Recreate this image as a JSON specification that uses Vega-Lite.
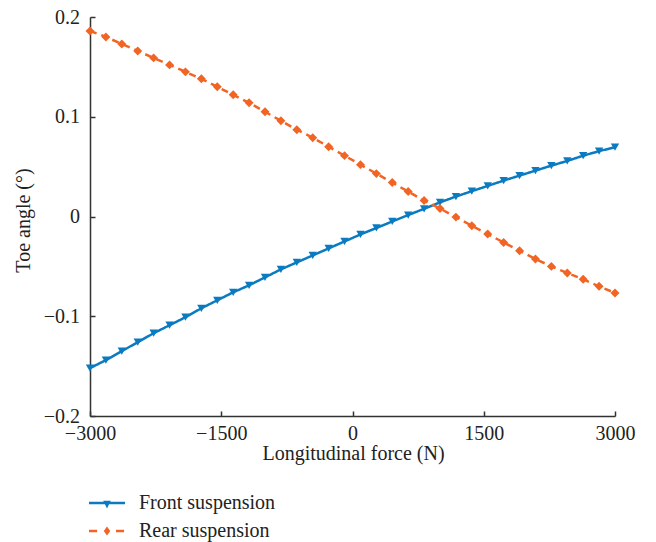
{
  "$schema": "https://vega.github.io/schema/vega-lite/v6.json",
  "width": 525,
  "height": 399,
  "autosize": {"type": "none"},
  "padding": {"left": 90, "top": 17, "right": 41, "bottom": 126},
  "background": "white",
  "config": {
    "view": {"stroke": null},
    "font": "Liberation Serif",
    "axis": {
      "grid": false,
      "labelFlush": false,
      "labelOverlap": false,
      "domainColor": "#333333",
      "domainWidth": 1.5,
      "tickColor": "#333333",
      "tickWidth": 1.5,
      "tickSize": -5,
      "labelFont": "Liberation Serif",
      "labelFontSize": 20,
      "labelColor": "#222222",
      "titleFont": "Liberation Serif",
      "titleFontSize": 20,
      "titleFontWeight": "normal",
      "titleColor": "#222222"
    }
  },
  "data": {
    "values": [
      {"force": -3000, "angle": -0.152, "series": "Front suspension"},
      {"force": -2818.2, "angle": -0.144, "series": "Front suspension"},
      {"force": -2636.4, "angle": -0.135, "series": "Front suspension"},
      {"force": -2454.5, "angle": -0.126, "series": "Front suspension"},
      {"force": -2272.7, "angle": -0.117, "series": "Front suspension"},
      {"force": -2090.9, "angle": -0.109, "series": "Front suspension"},
      {"force": -1909.1, "angle": -0.101, "series": "Front suspension"},
      {"force": -1727.3, "angle": -0.092, "series": "Front suspension"},
      {"force": -1545.5, "angle": -0.084, "series": "Front suspension"},
      {"force": -1363.6, "angle": -0.076, "series": "Front suspension"},
      {"force": -1181.8, "angle": -0.069, "series": "Front suspension"},
      {"force": -1000, "angle": -0.061, "series": "Front suspension"},
      {"force": -818.2, "angle": -0.053, "series": "Front suspension"},
      {"force": -636.4, "angle": -0.046, "series": "Front suspension"},
      {"force": -454.5, "angle": -0.039, "series": "Front suspension"},
      {"force": -272.7, "angle": -0.032, "series": "Front suspension"},
      {"force": -90.9, "angle": -0.025, "series": "Front suspension"},
      {"force": 90.9, "angle": -0.018, "series": "Front suspension"},
      {"force": 272.7, "angle": -0.0115, "series": "Front suspension"},
      {"force": 454.5, "angle": -0.005, "series": "Front suspension"},
      {"force": 636.4, "angle": 0.0015, "series": "Front suspension"},
      {"force": 818.2, "angle": 0.0077, "series": "Front suspension"},
      {"force": 1000, "angle": 0.0142, "series": "Front suspension"},
      {"force": 1181.8, "angle": 0.020, "series": "Front suspension"},
      {"force": 1363.6, "angle": 0.0254, "series": "Front suspension"},
      {"force": 1545.5, "angle": 0.0307, "series": "Front suspension"},
      {"force": 1727.3, "angle": 0.036, "series": "Front suspension"},
      {"force": 1909.1, "angle": 0.041, "series": "Front suspension"},
      {"force": 2090.9, "angle": 0.046, "series": "Front suspension"},
      {"force": 2272.7, "angle": 0.051, "series": "Front suspension"},
      {"force": 2454.5, "angle": 0.0557, "series": "Front suspension"},
      {"force": 2636.4, "angle": 0.061, "series": "Front suspension"},
      {"force": 2818.2, "angle": 0.0655, "series": "Front suspension"},
      {"force": 3000, "angle": 0.0695, "series": "Front suspension"},
      {"force": -3000, "angle": 0.186, "series": "Rear suspension"},
      {"force": -2818.2, "angle": 0.180, "series": "Rear suspension"},
      {"force": -2636.4, "angle": 0.173, "series": "Rear suspension"},
      {"force": -2454.5, "angle": 0.166, "series": "Rear suspension"},
      {"force": -2272.7, "angle": 0.159, "series": "Rear suspension"},
      {"force": -2090.9, "angle": 0.152, "series": "Rear suspension"},
      {"force": -1909.1, "angle": 0.145, "series": "Rear suspension"},
      {"force": -1727.3, "angle": 0.138, "series": "Rear suspension"},
      {"force": -1545.5, "angle": 0.130, "series": "Rear suspension"},
      {"force": -1363.6, "angle": 0.122, "series": "Rear suspension"},
      {"force": -1181.8, "angle": 0.114, "series": "Rear suspension"},
      {"force": -1000, "angle": 0.105, "series": "Rear suspension"},
      {"force": -818.2, "angle": 0.096, "series": "Rear suspension"},
      {"force": -636.4, "angle": 0.087, "series": "Rear suspension"},
      {"force": -454.5, "angle": 0.079, "series": "Rear suspension"},
      {"force": -272.7, "angle": 0.070, "series": "Rear suspension"},
      {"force": -90.9, "angle": 0.061, "series": "Rear suspension"},
      {"force": 90.9, "angle": 0.052, "series": "Rear suspension"},
      {"force": 272.7, "angle": 0.043, "series": "Rear suspension"},
      {"force": 454.5, "angle": 0.034, "series": "Rear suspension"},
      {"force": 636.4, "angle": 0.025, "series": "Rear suspension"},
      {"force": 818.2, "angle": 0.016, "series": "Rear suspension"},
      {"force": 1000, "angle": 0.008, "series": "Rear suspension"},
      {"force": 1181.8, "angle": -0.0006, "series": "Rear suspension"},
      {"force": 1363.6, "angle": -0.0093, "series": "Rear suspension"},
      {"force": 1545.5, "angle": -0.0176, "series": "Rear suspension"},
      {"force": 1727.3, "angle": -0.026, "series": "Rear suspension"},
      {"force": 1909.1, "angle": -0.0343, "series": "Rear suspension"},
      {"force": 2090.9, "angle": -0.0426, "series": "Rear suspension"},
      {"force": 2272.7, "angle": -0.050, "series": "Rear suspension"},
      {"force": 2454.5, "angle": -0.0566, "series": "Rear suspension"},
      {"force": 2636.4, "angle": -0.063, "series": "Rear suspension"},
      {"force": 2818.2, "angle": -0.070, "series": "Rear suspension"},
      {"force": 3000, "angle": -0.0766, "series": "Rear suspension"}
    ]
  },
  "encoding": {
    "x": {
      "field": "force",
      "type": "quantitative",
      "scale": {"domain": [-3000, 3000], "nice": false},
      "axis": {
        "title": "Longitudinal force (N)",
        "values": [-3000, -1500, 0, 1500, 3000],
        "format": "d",
        "labelPadding": 12,
        "titleX": 263,
        "titleY": 37,
        "titleBaseline": "middle"
      }
    },
    "y": {
      "field": "angle",
      "type": "quantitative",
      "scale": {"domain": [-0.2, 0.2], "nice": false},
      "axis": {
        "title": "Toe angle (°)",
        "values": [-0.2, -0.1, 0, 0.1, 0.2],
        "format": "~g",
        "labelPadding": 15.5,
        "titleX": -67,
        "titleY": 203,
        "titleBaseline": "middle",
        "titleAlign": "center"
      }
    },
    "color": {
      "field": "series",
      "type": "nominal",
      "scale": {"domain": ["Front suspension", "Rear suspension"], "range": ["#0b7bc1", "#f26424"]},
      "legend": {
        "title": null,
        "orient": "none",
        "legendX": -1,
        "legendY": 468,
        "padding": 0,
        "symbolSize": 1296,
        "symbolStrokeWidth": 0,
        "symbolOpacity": 1,
        "labelFont": "Liberation Serif",
        "labelFontSize": 20,
        "labelColor": "#222222",
        "labelOffset": 14,
        "rowPadding": -8,
        "encode": {
          "symbols": {
            "update": {
              "shape": {"signal": "datum.value === 'Front suspension' ? 'M-1,-0.07H1V0.07H-1Z M-0.21,-0.13H0.21L0,0.3Z' : 'M-1,-0.07H-0.55V0.07H-1Z M0.5,-0.07H0.95V0.07H0.5Z M0,-0.25L0.18,0L0,0.25L-0.18,0Z'"},
              "fill": {"scale": "color", "field": "value"},
              "strokeWidth": {"value": 0}
            }
          }
        }
      }
    }
  },
  "layer": [
    {
      "mark": {"type": "line", "strokeWidth": 2.5},
      "encoding": {
        "strokeDash": {
          "field": "series",
          "type": "nominal",
          "scale": {"domain": ["Front suspension", "Rear suspension"], "range": [[1, 0], [7, 5]]},
          "legend": null
        }
      }
    },
    {
      "transform": [{"filter": "datum.series === 'Front suspension'"}],
      "mark": {"type": "point", "filled": true, "opacity": 1, "size": 70, "shape": "triangle-down"}
    },
    {
      "transform": [{"filter": "datum.series === 'Rear suspension'"}],
      "mark": {"type": "point", "filled": true, "opacity": 1, "size": 80, "shape": "diamond"}
    }
  ]
}
